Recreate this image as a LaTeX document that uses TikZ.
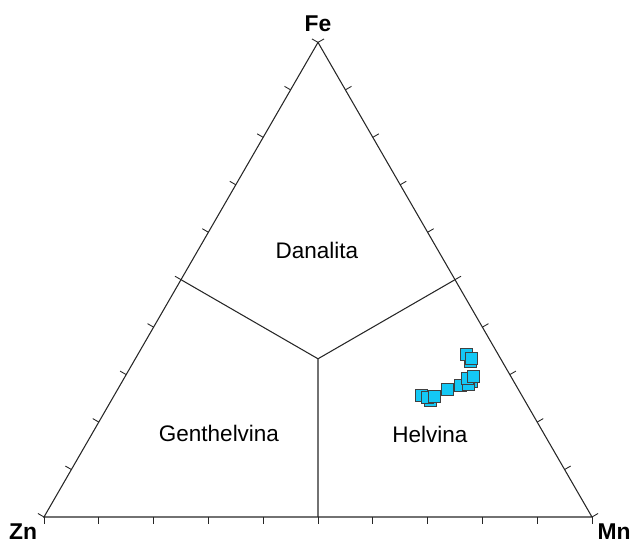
\documentclass[tikz,border=0pt]{standalone}
\usepackage{fontspec}
\setmainfont{Liberation Sans}
\usetikzlibrary{positioning, calc}

\definecolor{ptcyan}{RGB}{20,200,245}

\tikzset{
  edge/.style={line width=0.6pt, draw=black!85},
  tickmark/.style={line width=0.5pt, draw=black!85},
  vlabel/.style={font=\fontsize{13}{15}\selectfont\bfseries, inner sep=0pt},
  field/.style={font=\fontsize{12.8}{15}\selectfont, inner sep=0pt},
  datapt/.style={draw=black!75, line width=0.5pt, fill=ptcyan, minimum size=0.24cm, inner sep=0pt}
}

\begin{document}
\begin{tikzpicture}
    \useasboundingbox (0,0) rectangle (12.66,10.86);

    % Corners of the triangle
    \coordinate (Zn) at (0.88,0.52);
    \coordinate (Mn) at (11.84,0.52);
    \coordinate (Fe) at (6.36,10.012);

    % Outline
    \draw[edge] (Zn) -- (Mn) -- (Fe) -- cycle;

    % Ticks on each side
    \foreach \i in {0,...,10} {
      \draw[tickmark] ($(Zn)!\i/10!(Mn)$) -- ++(0,-0.14);
      \draw[tickmark] ($(Zn)!\i/10!(Fe)$) -- ++(150:0.14);
      \draw[tickmark] ($(Mn)!\i/10!(Fe)$) -- ++(30:0.14);
    }

    % Field boundaries
    \coordinate (mZnMn) at ($(Zn)!0.5!(Mn)$);
    \coordinate (mZnFe) at ($(Zn)!0.5!(Fe)$);
    \coordinate (mMnFe) at ($(Mn)!0.5!(Fe)$);
    \coordinate (ctr) at ($(mZnMn)!1/3!(Fe)$);
    \draw[edge] (ctr) -- (mZnMn);
    \draw[edge] (ctr) -- (mZnFe);
    \draw[edge] (ctr) -- (mMnFe);

    % Corner labels
    \node[vlabel, anchor=center] (lZn) at (0.46,0.22) {Zn};
    \node[vlabel, anchor=center] (lMn) at (12.28,0.22) {Mn};
    \node[vlabel, above=0.2cm of Fe] (lFe) {Fe};

    % Field names
    \node[field] (dan) at (6.34,5.86) {Danalita};
    \node[field] (gen) at (4.38,2.20) {Genthelvina};
    \node[field] (hel) at (8.60,2.18) {Helvina};

    % Analyses
    \foreach \n/\x/\y in {a/9.40/3.64, b/8.60/2.86, c/9.42/3.24,
        1/8.42/2.96, 2/8.54/2.92, 3/8.68/2.94, 4/8.94/3.08, 5/9.20/3.16,
        6/9.36/3.18, 7/9.34/3.30, 8/9.46/3.34, 9/9.32/3.78, 10/9.42/3.70} {
      \node[datapt] (p\n) at (\x,\y) {};
    }
\end{tikzpicture}
\end{document}
